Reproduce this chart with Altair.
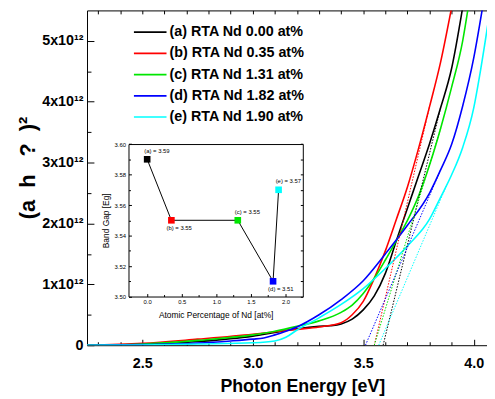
import altair as alt
import pandas as pd

FONT = "Liberation Sans"

# ---------------- data ----------------
series_names = ["(a) RTA Nd 0.00 at%", "(b) RTA Nd 0.35 at%", "(c) RTA Nd 1.31 at%",
                "(d) RTA Nd 1.82 at%", "(e) RTA Nd 1.90 at%"]
series_colors = ["#000000", "#ff0000", "#00e600", "#0000ff", "#00ffff"]

# (alpha h nu)^2 in units of 1e12 versus photon energy (eV)
a_energy = [2.25, 2.5, 2.75, 3.0, 3.1, 3.2, 3.3, 3.35, 3.4, 3.45, 3.5, 3.55, 3.6, 3.65, 3.7, 3.75, 3.8, 3.85, 3.9, 3.95]
a_value = [0.0, 0.01, 0.06, 0.15, 0.21, 0.27, 0.31, 0.32, 0.35, 0.43, 0.58, 0.81, 1.18, 1.72, 2.25, 2.78, 3.31, 3.9, 4.55, 5.55]

b_energy = [2.25, 2.5, 2.75, 3.0, 3.1, 3.2, 3.3, 3.4, 3.45, 3.5, 3.55, 3.6, 3.65, 3.7, 3.75, 3.8, 3.85, 3.9]
b_value = [0.0, 0.03, 0.1, 0.18, 0.22, 0.26, 0.3, 0.37, 0.5, 0.72, 1.1, 1.55, 2.07, 2.6, 3.23, 3.92, 4.65, 5.55]

c_energy = [2.25, 2.5, 2.75, 3.0, 3.1, 3.2, 3.3, 3.4, 3.45, 3.5, 3.55, 3.6, 3.65, 3.7, 3.75, 3.8, 3.85, 3.9, 3.95, 3.975]
c_value = [0.0, 0.02, 0.08, 0.17, 0.23, 0.31, 0.4, 0.54, 0.66, 0.85, 1.1, 1.4, 1.72, 2.05, 2.45, 2.96, 3.56, 4.24, 5.0, 5.55]

d_energy = [2.25, 2.5, 2.75, 2.9, 3.0, 3.05, 3.1, 3.15, 3.2, 3.3, 3.4, 3.5, 3.6, 3.7, 3.8, 3.85, 3.9, 3.95, 4.0, 4.04]
d_value = [0.0, 0.01, 0.035, 0.07, 0.1, 0.12, 0.17, 0.23, 0.3, 0.5, 0.75, 1.06, 1.5, 1.97, 2.5, 2.88, 3.3, 3.93, 4.72, 5.55]

e_energy = [2.25, 2.5, 2.75, 3.0, 3.1, 3.15, 3.2, 3.3, 3.4, 3.5, 3.6, 3.7, 3.8, 3.85, 3.9, 3.95, 4.0, 4.03, 4.065]
e_value = [0.0, 0.005, 0.02, 0.04, 0.07, 0.13, 0.25, 0.45, 0.67, 0.93, 1.26, 1.63, 2.07, 2.43, 2.8, 3.25, 3.9, 4.5, 5.3]

# Tauc extrapolation lines: from band gap (value 0) to a point on the curve
tangent_start_energy = [3.59, 3.55, 3.55, 3.51, 3.57]
tangent_end_energy = [3.85, 3.80, 3.85, 3.85, 3.88]
tangent_end_value = [3.9, 3.92, 3.56, 2.88, 2.65]

# inset: band gap vs Nd content
nd_percent = [0.0, 0.35, 1.31, 1.82, 1.90]
band_gap = [3.59, 3.55, 3.55, 3.51, 3.57]
point_labels = ["(a) = 3.59", "(b) = 3.55", "(c) = 3.55", "(d) = 3.51", "(e) = 3.57"]
labels_above = ["(a) = 3.59", "(c) = 3.55", "(e) = 3.57"]
labels_below = ["(b) = 3.55", "(d) = 3.51"]

# axes
X_DOMAIN = [2.25, 4.06]
Y_DOMAIN = [0, 5.5]
x_major = [2.5, 3.0, 3.5, 4.0]
x_minor = [2.3, 2.4, 2.6, 2.7, 2.8, 2.9, 3.1, 3.2, 3.3, 3.4, 3.6, 3.7, 3.8, 3.9]
x_top = sorted(x_major + x_minor)
y_major = [0, 1, 2, 3, 4, 5]
y_minor = [0.5, 1.5, 2.5, 3.5, 4.5]

IX_DOMAIN = [-0.27, 2.25]
IY_DOMAIN = [3.50, 3.60]
ix_major = [0.0, 0.5, 1.0, 1.5, 2.0]
ix_minor = [0.25, 0.75, 1.25, 1.75]
iy_major = [3.50, 3.52, 3.54, 3.56, 3.58, 3.60]
iy_minor = [3.51, 3.53, 3.55, 3.57, 3.59]
iy_all = sorted(iy_major + iy_minor)

Y_TITLE = "(a\u00a0\u00a0h\u00a0\u00a0\u00a0?\u00a0\u00a0)\u00b2"

# ---------------- layout (pixels) ----------------
W, H = 405, 339
IX_RANGE = [42, 218.5]
IY_RANGE = [289.7, 135.3]

# ---------------- tables ----------------
rows = []
for name, xs_, ys_ in zip(series_names,
                          [a_energy, b_energy, c_energy, d_energy, e_energy],
                          [a_value, b_value, c_value, d_value, e_value]):
    for e, v in zip(xs_, ys_):
        rows.append({"E": e, "A": v, "series": name})
curves = pd.DataFrame(rows)

trows = []
for i, name in enumerate(series_names):
    trows.append({"E": tangent_start_energy[i], "A": 0.0, "series": name})
    trows.append({"E": tangent_end_energy[i], "A": tangent_end_value[i], "series": name})
tangents = pd.DataFrame(trows)

inset_df = pd.DataFrame({"nd": nd_percent, "eg": band_gap, "lab": point_labels,
                         "col": series_colors})
anchor = curves.head(1)
inset_anchor = inset_df.head(1)


def main_scale_x():
    return alt.Scale(domain=X_DOMAIN, nice=False, zero=False)


def main_scale_y():
    return alt.Scale(domain=Y_DOMAIN, nice=False, zero=False)


def inset_scale_x():
    return alt.Scale(domain=IX_DOMAIN, range=IX_RANGE, nice=False, zero=False)


def inset_scale_y():
    return alt.Scale(domain=IY_DOMAIN, range=IY_RANGE, nice=False, zero=False)


color_scale = alt.Scale(domain=series_names, range=series_colors)

# ---------------- main plot ----------------
main_x_axis = alt.Axis(orient="bottom", values=x_major, format=".1f", tickSize=0,
                       labelPadding=12, labelFont=FONT, labelFontSize=14.5,
                       labelFontWeight="bold", labelColor="black",
                       domainColor="black", domainWidth=1, grid=False,
                       title="Photon Energy [eV]", titleFont=FONT, titleFontSize=18,
                       titleFontWeight="bold", titleColor="black",
                       titleX=218, titleY=47, titleAlign="center",
                       titleBaseline="alphabetic")
main_y_axis = alt.Axis(orient="left", values=y_major, tickSize=0, labelPadding=4,
                       labelExpr="datum.value == 0 ? '0' : datum.value + 'x10\u00b9\u00b2'",
                       labelFont=FONT, labelFontSize=14.5, labelFontWeight="bold",
                       labelColor="black", domainColor="black", domainWidth=1, grid=False,
                       title=Y_TITLE, titleFont=FONT, titleFontSize=22,
                       titleFontWeight="bold", titleColor="black", titleAngle=270,
                       titleX=-60, titleY=159, titleAlign="center", titleBaseline="middle")

solid = alt.Chart(curves).mark_line(strokeWidth=1.6, clip=True, interpolate="monotone").encode(
    x=alt.X("E:Q", scale=main_scale_x(), axis=main_x_axis),
    y=alt.Y("A:Q", scale=main_scale_y(), axis=main_y_axis),
    color=alt.Color("series:N", scale=color_scale,
                    legend=alt.Legend(orient="none", legendX=53, legendY=11, title=None,
                                      labelFont=FONT, labelFontSize=14.5,
                                      labelFontWeight="bold", labelColor="black",
                                      symbolType="M-1.65,0H1.65", symbolSize=400,
                                      symbolStrokeWidth=1.6, labelOffset=8.5,
                                      rowPadding=3.5, padding=0)),
)
dotted = alt.Chart(tangents).mark_line(strokeWidth=1, strokeDash=[1.5, 1.5], clip=True).encode(
    x=alt.X("E:Q", scale=main_scale_x()),
    y=alt.Y("A:Q", scale=main_scale_y()),
    stroke=alt.Stroke("series:N", scale=color_scale, legend=None),
    detail="series:N",
)
main = alt.layer(solid, dotted)


def tick_layer(data, xf, yf, xscale, yscale, xaxis, yaxis):
    return alt.Chart(data).mark_point(opacity=0).encode(
        x=alt.X(xf, scale=xscale, axis=xaxis),
        y=alt.Y(yf, scale=yscale, axis=yaxis),
    )


def tick_axis(orient, offset, values, size, domain=False):
    return alt.Axis(orient=orient, offset=offset, values=values, tickSize=size,
                    tickColor="black", tickWidth=1, labels=False, domain=domain,
                    domainColor="black", grid=False, title=None)


mt_major = tick_layer(anchor, "E:Q", "A:Q", main_scale_x(), main_scale_y(),
                      tick_axis("top", -H, x_major, 6), tick_axis("right", -W, y_major, 7))
mt_minor = tick_layer(anchor, "E:Q", "A:Q", main_scale_x(), main_scale_y(),
                      tick_axis("top", -H, x_minor, 3.5), tick_axis("right", -W, y_minor, 4))
mt_top = tick_layer(anchor, "E:Q", "A:Q", main_scale_x(), main_scale_y(),
                    tick_axis("bottom", -H, x_top, 3.5, domain=True), None)

# ---------------- inset ----------------
inset_x_axis = alt.Axis(orient="bottom", offset=-(H - IY_RANGE[0]), values=ix_major,
                        format=".1f", tickSize=0, labelPadding=2, labelFont=FONT,
                        labelFontSize=6, labelColor="black", domainColor="black",
                        grid=False, title="Atomic Percentage of Nd [at%]", titleFont=FONT,
                        titleFontSize=8.5, titleFontWeight="normal", titleColor="black",
                        titlePadding=6)
inset_y_axis = alt.Axis(orient="left", offset=-IX_RANGE[0], values=iy_major, format=".2f",
                        tickSize=0, labelPadding=3, labelFont=FONT, labelFontSize=6,
                        labelColor="black", domainColor="black", grid=False,
                        title="Band Gap [Eg]", titleFont=FONT, titleFontSize=8.5,
                        titleFontWeight="normal", titleColor="black", titlePadding=4)

ix_enc = alt.X("nd:Q", scale=inset_scale_x(), axis=inset_x_axis)
iy_enc = alt.Y("eg:Q", scale=inset_scale_y(), axis=inset_y_axis)

inset_line = alt.Chart(inset_df).mark_line(color="black", strokeWidth=1).encode(x=ix_enc, y=iy_enc)
inset_pts = alt.Chart(inset_df).mark_square(size=45, opacity=1).encode(
    x=alt.X("nd:Q", scale=inset_scale_x()),
    y=alt.Y("eg:Q", scale=inset_scale_y()),
    fill=alt.Fill("col:N", scale=None),
)
inset_txt_above = alt.Chart(inset_df).transform_filter(
    alt.FieldOneOfPredicate(field="lab", oneOf=labels_above)
).mark_text(align="left", baseline="middle", dx=-3, dy=-8.5, font=FONT, fontSize=6,
            color="black").encode(
    x=alt.X("nd:Q", scale=inset_scale_x()),
    y=alt.Y("eg:Q", scale=inset_scale_y()),
    text="lab:N",
)
inset_txt_below = alt.Chart(inset_df).transform_filter(
    alt.FieldOneOfPredicate(field="lab", oneOf=labels_below)
).mark_text(align="left", baseline="middle", dx=-5, dy=8, font=FONT, fontSize=6,
            color="black").encode(
    x=alt.X("nd:Q", scale=inset_scale_x()),
    y=alt.Y("eg:Q", scale=inset_scale_y()),
    text="lab:N",
)
inset = alt.layer(inset_line, inset_pts, inset_txt_above, inset_txt_below)

it_major = tick_layer(inset_anchor, "nd:Q", "eg:Q", inset_scale_x(), inset_scale_y(),
                      tick_axis("top", -IY_RANGE[0], ix_major, 3),
                      tick_axis("right", -(W - IX_RANGE[0]), iy_major, 3))
it_minor = tick_layer(inset_anchor, "nd:Q", "eg:Q", inset_scale_x(), inset_scale_y(),
                      tick_axis("top", -IY_RANGE[0], ix_minor, 2),
                      tick_axis("right", -(W - IX_RANGE[0]), iy_minor, 2))
it_frame = tick_layer(inset_anchor, "nd:Q", "eg:Q", inset_scale_x(), inset_scale_y(),
                      tick_axis("bottom", -(H - IY_RANGE[1]), ix_major, 0, domain=True),
                      tick_axis("left", -IX_RANGE[1], iy_all, 2.5, domain=True))

chart = alt.layer(main, mt_major, mt_minor, mt_top, inset, it_major, it_minor, it_frame).resolve_scale(
    x="independent", y="independent"
).properties(
    width=W, height=H,
    padding={"left": 80, "top": 0, "right": 0, "bottom": 52},
    autosize=alt.AutoSizeParams(type="none"),
    background="white",
).configure_view(stroke=None)

chart.save("out.html", embed_options={"renderer": "svg", "actions": False})
